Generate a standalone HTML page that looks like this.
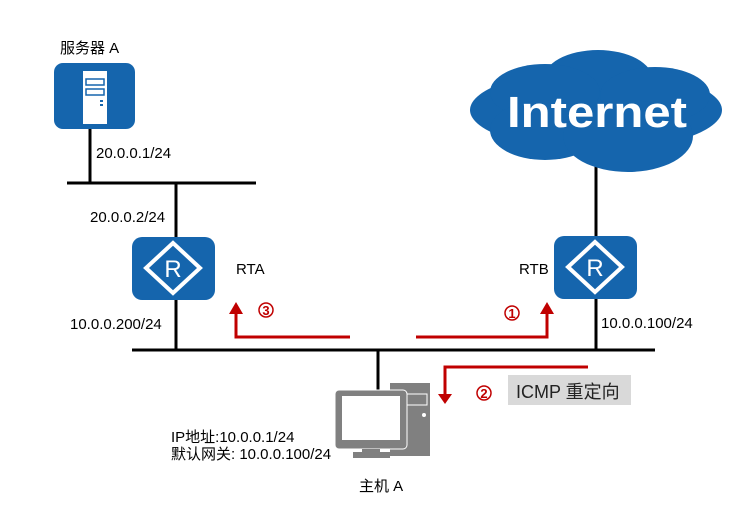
<!DOCTYPE html>
<html><head><meta charset="utf-8"><style>
body{margin:0;background:#fff;}
svg text{font-family:"Liberation Sans","Noto Sans CJK SC",sans-serif;}
</style></head><body>
<svg width="751" height="514" viewBox="0 0 751 514" xmlns="http://www.w3.org/2000/svg">
<g stroke="#000" stroke-width="3" fill="none">
<line x1="90" y1="125" x2="90" y2="184"/>
<line x1="67" y1="183" x2="256" y2="183"/>
<line x1="176" y1="183" x2="176" y2="240"/>
<line x1="176" y1="296" x2="176" y2="350"/>
<line x1="132" y1="350" x2="655" y2="350"/>
<line x1="596" y1="165" x2="596" y2="240"/>
<line x1="596" y1="296" x2="596" y2="350"/>
<line x1="378" y1="350" x2="378" y2="392"/>
</g>
<!-- server -->
<rect x="54" y="63" width="81" height="66" rx="9" fill="#1565ad"/>
<rect x="83" y="71" width="24" height="53" fill="#fff"/>
<rect x="86" y="79" width="18" height="6" fill="none" stroke="#1565ad" stroke-width="1.5"/>
<rect x="86" y="89" width="18" height="6" fill="none" stroke="#1565ad" stroke-width="1.5"/>
<rect x="100" y="100" width="3" height="2" fill="#1565ad"/><rect x="100" y="104" width="3" height="2" fill="#1565ad"/>
<!-- routers -->
<g id="r">
<rect x="132" y="237" width="83" height="63" rx="10" fill="#1565ad"/>
<polygon points="173,243 200,268 173,293 146,268" fill="none" stroke="#fff" stroke-width="4"/>
<text x="173" y="277" font-size="24" fill="#fff" text-anchor="middle">R</text>
</g>
<use href="#r" x="422" y="-1"/>
<!-- cloud -->
<g fill="#1565ad">
<ellipse cx="596" cy="110" rx="126" ry="40"/>
<ellipse cx="598" cy="80" rx="55" ry="30"/>
<ellipse cx="545" cy="92" rx="55" ry="28"/>
<ellipse cx="655" cy="95" rx="55" ry="28"/>
<ellipse cx="545" cy="130" rx="55" ry="30"/>
<ellipse cx="628" cy="136" rx="65" ry="36"/>
</g>
<text x="597" y="127" font-size="44" font-weight="bold" fill="#fff" text-anchor="middle" textLength="180" lengthAdjust="spacingAndGlyphs">Internet</text>
<!-- red arrows -->
<g stroke="#c00000" stroke-width="3" fill="none">
<polyline points="350,337 236,337 236,312"/>
<polyline points="416,337 547,337 547,312"/>
<polyline points="588,367 445,367 445,396"/>
</g>
<g fill="#c00000">
<polygon points="229,314 243,314 236,302"/>
<polygon points="540,314 554,314 547,302"/>
<polygon points="438,394 452,394 445,404"/>
</g>
<g font-size="13" fill="#c00000" font-weight="bold" text-anchor="middle">
<circle cx="266" cy="310" r="7" fill="none" stroke="#c00000" stroke-width="1.5"/><text x="266" y="315">3</text>
<circle cx="512" cy="313" r="7" fill="none" stroke="#c00000" stroke-width="1.5"/><text x="512" y="318">1</text>
<circle cx="484" cy="393" r="7" fill="none" stroke="#c00000" stroke-width="1.5"/><text x="484" y="398">2</text>
</g>
<rect x="508" y="375" width="123" height="30" fill="#d9d9d9"/>
<text x="516" y="398" font-size="18" fill="#222">ICMP 重定向</text>
<!-- host -->
<rect x="390" y="383" width="40" height="73" fill="#808080"/>
<rect x="393" y="394" width="34" height="11" fill="none" stroke="#fff" stroke-width="1"/>
<circle cx="424" cy="415" r="2" fill="#fff"/>
<rect x="335" y="390" width="72" height="59" rx="4" fill="#808080" stroke="#fff" stroke-width="1"/>
<rect x="342" y="396" width="58" height="44" fill="#fff"/>
<rect x="362" y="449" width="18" height="4" fill="#808080"/>
<rect x="353" y="452" width="37" height="6" fill="#808080"/>
<g font-size="15" fill="#000">
<text x="60" y="53">服务器 A</text>
<text x="96" y="158">20.0.0.1/24</text>
<text x="90" y="222">20.0.0.2/24</text>
<text x="236" y="274">RTA</text>
<text x="519" y="274">RTB</text>
<text x="70" y="329">10.0.0.200/24</text>
<text x="601" y="328">10.0.0.100/24</text>
<text x="171" y="442">IP地址:10.0.0.1/24</text>
<text x="171" y="459">默认网关: 10.0.0.100/24</text>
<text x="359" y="491">主机 A</text>
</g>
</svg>
</body></html>
